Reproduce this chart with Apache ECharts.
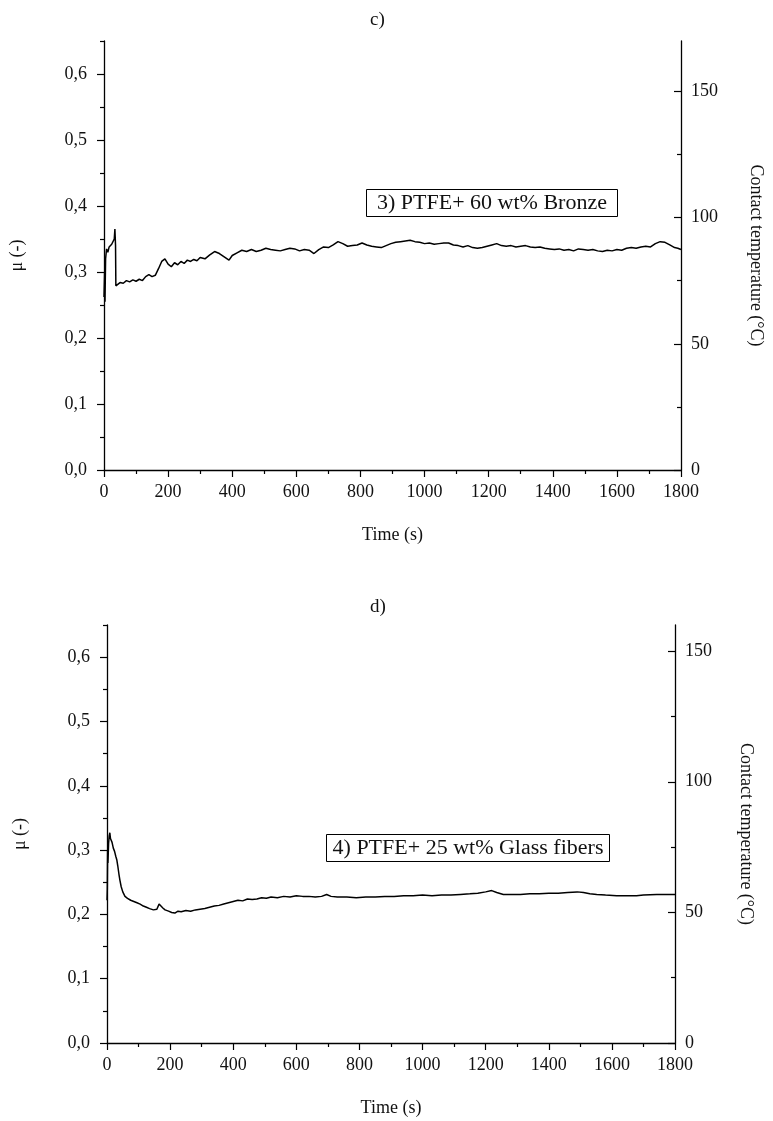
<!DOCTYPE html>
<html>
<head>
<meta charset="utf-8">
<script src="https://cdn.jsdelivr.net/npm/echarts@6/dist/echarts.min.js"></script>
<style>
html,body{margin:0;padding:0;background:#fff;}
#chart{width:773px;height:1121px;}
</style>
</head>
<body>
<div id="chart"></div>
<script>
// ---- Data: panel c) PTFE + 60 wt% Bronze ----
const timeC = [0,2,3,5,8,12,16,20,24,28,32,34,36,37,42,50,60,70,80,90,100,110,120,130,140,150,160,170,180,190,200,210,220,230,240,250,260,270,280,290,300,315,330,345,360,375,390,400,415,430,445,460,475,490,505,520,535,550,565,580,595,610,625,640,655,670,685,700,715,730,745,760,775,790,805,820,835,850,865,880,895,910,925,940,955,970,985,1000,1015,1030,1045,1060,1075,1090,1105,1120,1135,1150,1165,1180,1195,1210,1225,1240,1255,1270,1285,1300,1315,1330,1345,1360,1375,1390,1405,1420,1435,1450,1465,1480,1495,1510,1525,1540,1555,1570,1585,1600,1615,1630,1645,1660,1675,1690,1705,1720,1735,1750,1765,1780,1790,1800];
const muC = [0.262,0.300,0.255,0.320,0.335,0.330,0.338,0.336,0.342,0.340,0.350,0.365,0.340,0.279,0.281,0.284,0.283,0.287,0.285,0.288,0.286,0.289,0.287,0.293,0.296,0.293,0.295,0.305,0.316,0.320,0.312,0.308,0.314,0.311,0.316,0.313,0.318,0.316,0.319,0.317,0.322,0.320,0.326,0.331,0.328,0.323,0.318,0.325,0.329,0.333,0.331,0.334,0.331,0.333,0.336,0.334,0.333,0.332,0.334,0.336,0.335,0.332,0.334,0.333,0.328,0.334,0.338,0.337,0.341,0.346,0.343,0.339,0.340,0.341,0.344,0.341,0.339,0.338,0.337,0.340,0.343,0.345,0.346,0.347,0.348,0.346,0.345,0.343,0.344,0.342,0.343,0.344,0.344,0.341,0.340,0.338,0.340,0.337,0.336,0.337,0.339,0.341,0.343,0.340,0.339,0.340,0.338,0.339,0.340,0.338,0.337,0.338,0.336,0.335,0.334,0.335,0.333,0.334,0.332,0.335,0.334,0.333,0.334,0.332,0.331,0.333,0.332,0.334,0.333,0.336,0.337,0.336,0.338,0.339,0.338,0.343,0.346,0.345,0.341,0.337,0.336,0.334];

// ---- Data: panel d) PTFE + 25 wt% Glass fibers ----
const timeD = [0,1,2,3,5,7,9,11,13,16,20,24,28,31,34,38,41,45,50,57,65,75,85,95,105,115,125,135,147,158,165,170,177,184,195,205,215,225,235,250,265,280,295,310,325,340,355,370,385,400,415,430,445,460,475,490,505,520,540,560,580,600,620,640,660,680,696,710,730,760,790,820,850,880,910,940,970,1000,1030,1060,1090,1120,1150,1175,1200,1219,1235,1256,1280,1310,1340,1370,1400,1430,1460,1490,1510,1530,1552,1580,1615,1650,1678,1700,1742,1770,1800];
const muD = [0.222,0.240,0.300,0.280,0.310,0.322,0.327,0.318,0.320,0.312,0.303,0.298,0.290,0.285,0.276,0.262,0.253,0.243,0.235,0.228,0.225,0.222,0.220,0.218,0.216,0.213,0.211,0.209,0.207,0.208,0.216,0.214,0.210,0.207,0.205,0.203,0.202,0.205,0.204,0.206,0.205,0.207,0.208,0.209,0.211,0.213,0.214,0.216,0.218,0.220,0.222,0.221,0.224,0.223,0.224,0.226,0.225,0.227,0.226,0.228,0.227,0.229,0.228,0.228,0.227,0.228,0.231,0.228,0.227,0.227,0.226,0.227,0.227,0.228,0.228,0.229,0.229,0.230,0.229,0.230,0.230,0.231,0.232,0.233,0.235,0.237,0.234,0.231,0.231,0.231,0.232,0.232,0.233,0.233,0.234,0.235,0.234,0.232,0.231,0.230,0.229,0.229,0.229,0.230,0.231,0.231,0.231];

// ---- Axis tick values / labels ----
const muTicks = [0,0.1,0.2,0.3,0.4,0.5,0.6];
const muMinorTicks = [0.05,0.15,0.25,0.35,0.45,0.55,0.65];
const tempTicks = [0,50,100,150];
const tempMinorTicks = [25,75,125];
const panelTitles = ['c)', 'd)'];
const annotations = ['3) PTFE+ 60 wt% Bronze', '4) PTFE+ 25 wt% Glass fibers'];
const xName = 'Time (s)';
const muName = 'μ (-)';
const tempName = 'Contact temperature (°C)';

const FONT = 'Liberation Serif';
const TXT = '#111';

const panels = [
  {grid:{left:100,right:90,top:41,bottom:651}, muMax:0.65, tMax:170, time:timeC, mu:muC,
   title:{left:365,top:6}, box:{left:366,top:189,width:251,height:27}, rightGap:66},
  {grid:{left:107,right:98,top:625,bottom:78}, muMax:0.65, tMax:160, time:timeD, mu:muD,
   title:{left:365,top:593}, box:{left:326,top:834,width:283,height:27}, rightGap:62}
];

const grids=[], xAxes=[], yAxes=[], series=[], titles=[], graphics=[];
panels.forEach((p,i)=>{
  grids.push(Object.assign({containLabel:false}, p.grid));
  xAxes.push({
    type:'value', gridIndex:i, min:0, max:1800, interval:200,
    name:xName, nameLocation:'middle', nameGap:56,
    nameTextStyle:{fontFamily:FONT,fontSize:18,color:TXT},
    axisLine:{show:true,onZero:false,lineStyle:{color:'#000',width:1.3}},
    axisTick:{show:true,inside:false,length:7,lineStyle:{color:'#000',width:1.2}},
    minorTick:{show:true,splitNumber:2,length:4,lineStyle:{color:'#000',width:1.2}},
    axisLabel:{fontFamily:FONT,fontSize:18,color:TXT,margin:13,formatter:v=>String(v)},
    splitLine:{show:false}, minorSplitLine:{show:false}
  });
  const base = yAxes.length;
  yAxes.push({
    type:'value', gridIndex:i, position:'left', min:0, max:p.muMax,
    name:muName, nameLocation:'middle', nameGap:78, nameRotate:90,
    nameTextStyle:{fontFamily:FONT,fontSize:18,color:TXT},
    axisLine:{show:true,lineStyle:{color:'#000',width:1.3}},
    axisTick:{show:true,inside:false,length:7,customValues:muTicks,lineStyle:{color:'#000',width:1.2}},
    axisLabel:{fontFamily:FONT,fontSize:18,color:TXT,margin:17,customValues:muTicks,
      formatter:v=>v.toFixed(1).replace('.',',')},
    splitLine:{show:false}
  });
  yAxes.push({
    type:'value', gridIndex:i, position:'left', min:0, max:p.muMax,
    axisLine:{show:false},
    axisTick:{show:true,inside:false,length:4,customValues:muMinorTicks,lineStyle:{color:'#000',width:1.2}},
    axisLabel:{show:false}, splitLine:{show:false}
  });
  yAxes.push({
    type:'value', gridIndex:i, position:'right', min:0, max:p.tMax,
    name:tempName, nameLocation:'middle', nameGap:p.rightGap, nameRotate:-90,
    nameTextStyle:{fontFamily:FONT,fontSize:18,color:TXT},
    axisLine:{show:true,lineStyle:{color:'#000',width:1.3}},
    axisTick:{show:true,inside:true,length:7,customValues:tempTicks,lineStyle:{color:'#000',width:1.2}},
    axisLabel:{fontFamily:FONT,fontSize:18,color:TXT,margin:10,customValues:tempTicks},
    splitLine:{show:false}
  });
  yAxes.push({
    type:'value', gridIndex:i, position:'right', min:0, max:p.tMax,
    axisLine:{show:false},
    axisTick:{show:true,inside:true,length:4,customValues:tempMinorTicks,lineStyle:{color:'#000',width:1.2}},
    axisLabel:{show:false}, splitLine:{show:false}
  });
  series.push({
    type:'line', xAxisIndex:i, yAxisIndex:base, showSymbol:false, symbol:'none',
    data:p.time.map((t,k)=>[t,p.mu[k]]),
    lineStyle:{color:'#000',width:1.5}, animation:false
  });
  titles.push({text:panelTitles[i], left:p.title.left, top:p.title.top,
    textStyle:{fontFamily:FONT,fontSize:19,fontWeight:'normal',color:TXT}});
  graphics.push({
    type:'group', left:p.box.left, top:p.box.top,
    children:[
      {type:'rect', shape:{x:0,y:0,width:p.box.width,height:p.box.height},
       style:{fill:'#fff',stroke:'#000',lineWidth:1}},
      {type:'text', x:p.box.width/2, y:p.box.height/2+1, scaleX:1.1,
       style:{text:annotations[i], font:'20px "Liberation Serif"', fill:TXT,
              textAlign:'center', textVerticalAlign:'middle', verticalAlign:'middle'}}
    ]
  });
});

const chart = echarts.init(document.getElementById('chart'), null, {renderer:'canvas'});
chart.setOption({
  backgroundColor:'#fff',
  animation:false,
  title:titles,
  grid:grids,
  xAxis:xAxes,
  yAxis:yAxes,
  series:series,
  graphic:graphics
});
</script>
</body>
</html>
